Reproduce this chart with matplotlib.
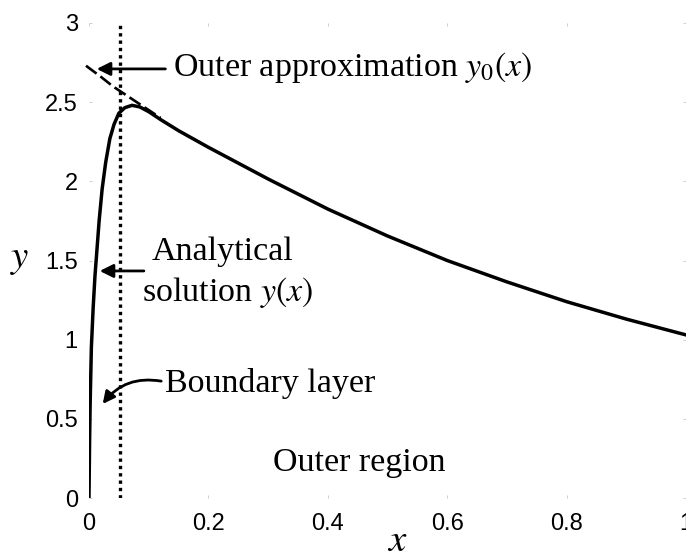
#!/usr/bin/env python3
import matplotlib
matplotlib.use("Agg")
import matplotlib.pyplot as plt

# analytical solution y(x)
X_SOLUTION = [0.0, 0.001, 0.002, 0.004, 0.007, 0.010, 0.013, 0.017, 0.022,
              0.028, 0.035, 0.042, 0.050, 0.060, 0.072, 0.085, 0.10, 0.12,
              0.15, 0.2, 0.3, 0.4, 0.5, 0.6, 0.7, 0.8, 0.9, 1.0]
Y_SOLUTION = [0.0, 0.35, 0.6, 0.95, 1.2, 1.4, 1.55, 1.75, 1.95,
              2.12, 2.27, 2.36, 2.43, 2.465, 2.48, 2.47, 2.44, 2.39,
              2.32, 2.215, 2.015, 1.825, 1.655, 1.50, 1.365, 1.24, 1.13, 1.03]

# outer approximation y0(x), only visible near x = 0
X_OUTER = [-0.005, 0.02, 0.04, 0.06, 0.08, 0.10, 0.12]
Y_OUTER = [2.73, 2.66, 2.60, 2.55, 2.50, 2.45, 2.40]

# boundary-layer edge
X_EDGE = 0.052
Y_EDGE = [0.0, 3.0]

X_TICKS = [0, 0.2, 0.4, 0.6, 0.8, 1.0]
X_TICKLABELS = ["0", "0.2", "0.4", "0.6", "0.8", "1"]
Y_TICKS = [0, 0.5, 1, 1.5, 2, 2.5, 3]
Y_TICKLABELS = ["0", "0.5", "1", "1.5", "2", "2.5", "3"]

SERIF = "Liberation Serif"
SANS = "Liberation Sans"


def main() -> int:
    plt.rcParams["mathtext.fontset"] = "stix"
    fig = plt.figure(figsize=(6.86, 5.58), dpi=100)
    ax = fig.add_axes([0.1297, 0.1075, 0.8703, 0.8513])

    ax.plot(X_SOLUTION, Y_SOLUTION, color="black", lw=2.5,
            solid_capstyle="round", solid_joinstyle="round")
    ax.plot(X_OUTER, Y_OUTER, color="black", lw=1.9,
            linestyle=(0, (5, 1.8)), clip_on=False)
    ax.plot([X_EDGE, X_EDGE], Y_EDGE, color="black", lw=2.4,
            linestyle=(0, (1.0, 1.2)))

    ax.set_xlim(0, 1)
    ax.set_ylim(0, 3)
    ax.set_xticks(X_TICKS)
    ax.set_xticklabels(X_TICKLABELS, family=SANS, fontsize=17)
    ax.set_yticks(Y_TICKS)
    ax.set_yticklabels(Y_TICKLABELS, family=SANS, fontsize=17)
    ax.tick_params(axis="both", length=2, width=0.6, color="#c8c8c8",
                   direction="in", top=True, right=True)
    ax.tick_params(axis="x", pad=11)
    ax.tick_params(axis="y", pad=8)
    for spine in ax.spines.values():
        spine.set_visible(False)

    ax.text(-0.116, 0.505, "$y$", transform=ax.transAxes, fontsize=28,
            ha="center", va="center")
    ax.text(0.516, -0.088, "$x$", transform=ax.transAxes, fontsize=28,
            ha="center", va="center")

    arrow = dict(arrowstyle="-|>", lw=2.0, color="black",
                 mutation_scale=20, shrinkA=0, shrinkB=0)

    ax.annotate("", xy=(0.013, 2.71), xytext=(0.128, 2.71),
                arrowprops=arrow)
    ax.text(0.141, 2.716, "Outer approximation $y_0(x)$", family=SERIF,
            fontsize=24.5, ha="left", va="center")

    ax.annotate("", xy=(0.018, 1.434), xytext=(0.092, 1.434),
                arrowprops=arrow)
    ax.text(0.1055, 1.554, "Analytical", family=SERIF, fontsize=24.5,
            ha="left", va="center")
    ax.text(0.089, 1.295, "solution $y(x)$", family=SERIF, fontsize=24.5,
            ha="left", va="center")

    ax.annotate("", xy=(0.023, 0.594), xytext=(0.121, 0.738),
                arrowprops=dict(arrow, connectionstyle="arc3,rad=0.3",
                                mutation_scale=18))
    ax.text(0.127, 0.726, "Boundary layer", family=SERIF, fontsize=24.5,
            ha="left", va="center")

    ax.text(0.308, 0.221, "Outer region", family=SERIF, fontsize=24.5,
            ha="left", va="center")

    fig.savefig("out.png", dpi=100)
    plt.close(fig)
    return 0


if __name__ == "__main__":
    raise SystemExit(main())
